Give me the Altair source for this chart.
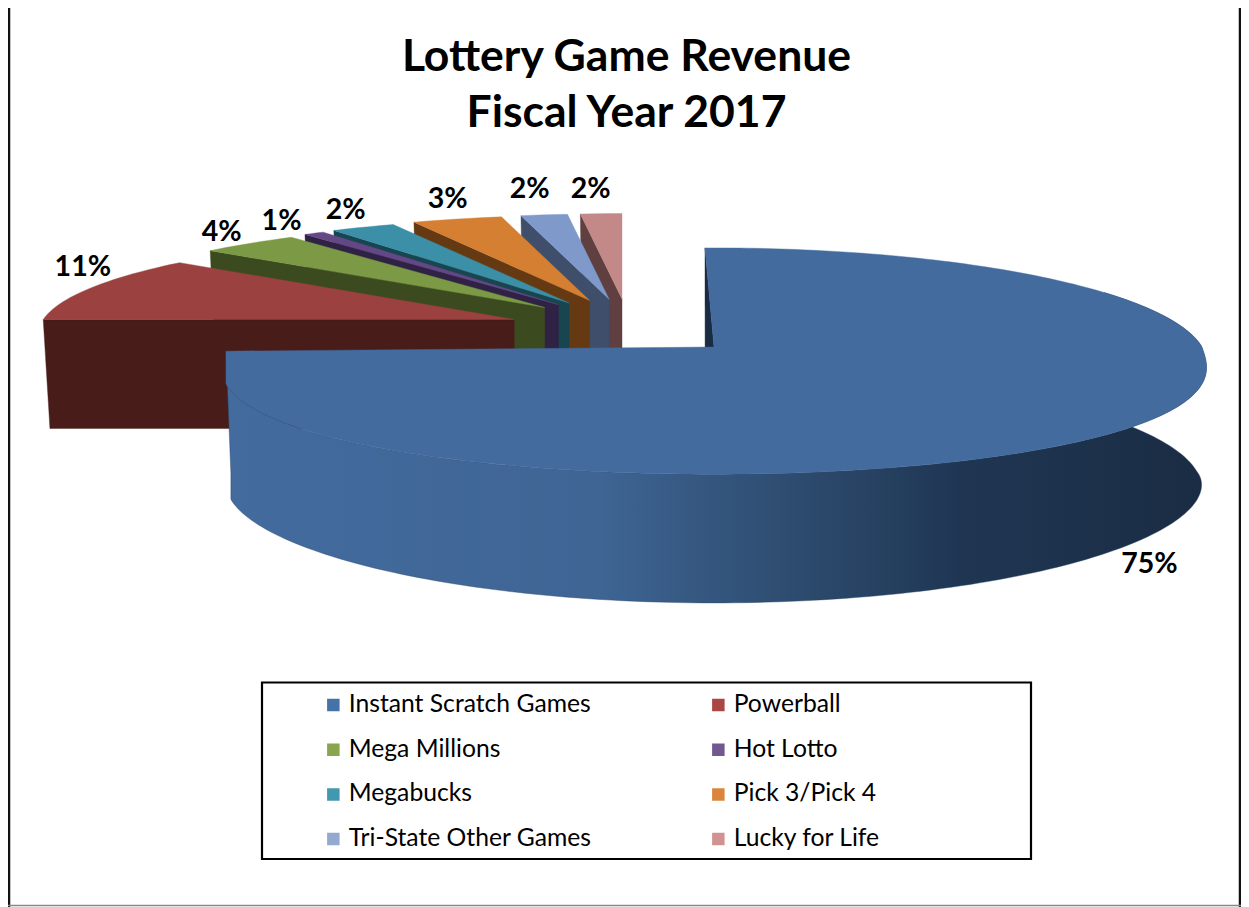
import math
import altair as alt
import pandas as pd

# ---- chart values ----
names = ["Instant Scratch Games", "Powerball", "Mega Millions", "Hot Lotto",
         "Megabucks", "Pick 3/Pick 4", "Tri-State Other Games", "Lucky for Life"]
shares = [75.0, 10.98, 3.85, 0.8, 2.49, 3.48, 1.8, 1.6]
top_colors = ["#436b9e", "#9b4240", "#7c9a45", "#644785", "#3b8fa6", "#d57f32", "#7f9aca", "#c38989"]
wall_colors = ["#1a2c43", "#471c19", "#3c4b1f", "#2f2244", "#174550", "#653a13", "#3f4f6b", "#5f3f40"]
legend_colors = ["#4572a7", "#aa4643", "#89a54e", "#71588f", "#4198af", "#db843d", "#93a9cf", "#d19392"]
title_lines = ["Lottery Game Revenue", "Fiscal Year 2017"]

# ---- projection of the tilted pie onto the page ----
W, H = 1233, 899
CX, CY = 714.0, 347.0
P = 0.135
BIG = dict(rx=488.0, ry=112.5, ry_low=110.0, depth=125.0, rot=-1.2, clamp=True)
SMALL = dict(rx=471.0, ry=97.0, ry_low=97.0, depth=109.0, rot=0.0, clamp=False)
# label offsets from the rim point of each slice (layout only)
label_nudge = {1: (-7.5, -21), 2: (-27.5, -11), 3: (-32.5, -12), 4: (-17.5, -17),
               5: (-9.5, -20), 6: (-14.5, -26), 7: (-10.5, -25)}


def project(ax, ay, ang, g, drop=False):
    a = math.radians(ang + g["rot"])
    X, Y = math.sin(a), math.cos(a)
    f = 1 + P * Y
    xn = X / f
    if g["clamp"]:
        xn = max(xn, -1.0)
    x = ax + xn * g["rx"]
    if Y >= 0:
        y = ay - Y * g["ry"] / f
    else:
        y = ay + abs(Y) ** (1.1 if drop else 0.85) * g["ry_low"] / f
    if drop:
        y += g["depth"] * (1 - 0.03 * Y)
        x = CX + (x - CX) * 0.99
    return x, y


def poly(points):
    pts = list(points) + [points[0]]
    return pd.DataFrame({"px": [p[0] for p in pts], "py": [p[1] for p in pts], "i": range(len(pts))})


X_ENC = alt.X("px:Q", scale=alt.Scale(domain=[8, 8 + W], range=[0, W], nice=False, zero=False), axis=None)
Y_ENC = alt.Y("py:Q", scale=alt.Scale(domain=[8 + H, 8], nice=False, zero=False), axis=None)


def shape(points, fill):
    return alt.Chart(poly(points)).mark_line(
        fill=fill, stroke=fill if isinstance(fill, str) else "#2a4362", strokeWidth=0.4,
        interpolate="linear", clip=False
    ).encode(x=X_ENC, y=Y_ENC, order="i:Q")


edges = [0.0]
for s in shares:
    edges.append(edges[-1] + s * 3.6)

layers = []
label_rows = []

# exploded small slices, painted back to front
for k in range(len(names) - 1, 0, -1):
    a0, a1 = edges[k], edges[k + 1]
    b = math.radians((a0 + a1) / 2)
    ax = CX - 85.9 + 121 * math.sin(b)
    ay = CY - 17 - 31 * math.cos(b)
    wall = [(ax, ay), project(ax, ay, a0, SMALL), project(ax, ay, a0, SMALL, True), (ax, ay + SMALL["depth"])]
    layers.append(shape(wall, wall_colors[k]))
    n = max(3, int((a1 - a0) / 1.5))
    arc = [project(ax, ay, a0 + (a1 - a0) * t / n, SMALL) for t in range(n + 1)]
    layers.append(shape([(ax, ay)] + arc, top_colors[k]))
    lx, ly = project(ax, ay, (a0 + a1) / 2, SMALL)
    dx, dy = label_nudge[k]
    label_rows.append({"px": lx + dx, "py": ly + dy, "t": f"{round(shares[k])}%"})

# the large slice
a0, a1 = edges[0], edges[1]
wall = [(CX, CY), project(CX, CY, a0, BIG), project(CX, CY, a0, BIG, True), (CX, CY + BIG["depth"])]
layers.append(shape(wall, wall_colors[0]))
rim_angles = [a0 + 60 + (a1 - a0 - 60) * t / 180 for t in range(181)]
rim = [project(CX, CY, a, BIG) for a in rim_angles] + [project(CX, CY, a, BIG, True) for a in reversed(rim_angles)]
rim_fill = alt.Gradient(
    gradient="linear", x1=0, x2=1, y1=0, y2=0,
    stops=[alt.GradientStop(offset=0, color=top_colors[0]),
           alt.GradientStop(offset=0.38, color="#3e6594"),
           alt.GradientStop(offset=0.56, color="#2f4e72"),
           alt.GradientStop(offset=0.75, color="#1f3653"),
           alt.GradientStop(offset=1, color="#1a2c43")])
layers.append(shape(rim, rim_fill))
top_arc = [project(CX, CY, a0 + (a1 - a0) * t / 240, BIG) for t in range(241)]
layers.append(shape([(CX, CY)] + top_arc, top_colors[0]))
bx, by = project(CX, CY, (a0 + a1) / 2, BIG, True)
label_rows.append({"px": CX + (bx - CX) * 1.132, "py": by + 8, "t": f"{round(shares[0])}%"})

labels = alt.Chart(pd.DataFrame(label_rows)).mark_text(
    font="Lato", fontWeight="bold", fontSize=28.5, color="black", baseline="middle", align="center"
).encode(x=X_ENC, y=Y_ENC, text="t:N")

# outer frame of the picture
frame_v = alt.Chart(pd.DataFrame({"px": [9.0, 1240.0]})).mark_rule(color="#111111", strokeWidth=2.5).encode(x=X_ENC)
frame_b = alt.Chart(pd.DataFrame({"py": [905.5]})).mark_rule(color="#888888", strokeWidth=1.5).encode(y=Y_ENC)

# legend box and legend (two columns, filled down each column by Vega)
box = alt.Chart(pd.DataFrame({"px": [262.0], "px2": [1031.0], "py": [682.5], "py2": [859.0]})).mark_rect(
    fill="white", stroke="black", strokeWidth=2.2
).encode(x=X_ENC, x2="px2:Q", y=Y_ENC, y2="py2:Q")

legend_order = names[0::2] + names[1::2]
legend_range = legend_colors[0::2] + legend_colors[1::2]
legend_src = alt.Chart(pd.DataFrame({"name": names})).mark_square(size=0).encode(
    color=alt.Color(
        "name:N",
        scale=alt.Scale(domain=legend_order, range=legend_range),
        legend=alt.Legend(
            title=None, orient="none", legendX=311, legendY=680, columns=2, padding=2,
            symbolType="square", symbolSize=156, symbolStrokeWidth=0, symbolOpacity=1,
            labelFont="Lato", labelFontSize=24.7, labelColor="black", labelOffset=3,
            labelLimit=300, columnPadding=114, rowPadding=14.7, clipHeight=30,
        ),
    )
)

chart = alt.layer(*layers, box, legend_src, labels, frame_v, frame_b).properties(
    width=W, height=H, padding=0, autosize=alt.AutoSizeParams(type="none"),
    background="white",
    title=alt.TitleParams(text=title_lines, font="Lato", fontWeight="bold", fontSize=44.5, color="black",
                          anchor="middle", lineHeight=56, baseline="top", dy=133.5, dx=2),
).configure_view(stroke=None)

chart.save("out.html", embed_options={"renderer": "svg", "actions": False})
